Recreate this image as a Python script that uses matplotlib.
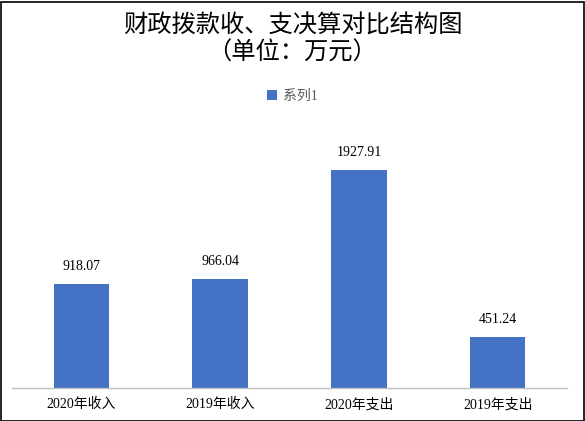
import matplotlib
matplotlib.use("Agg")
import matplotlib.pyplot as plt
from matplotlib.patches import Rectangle

categories = ["2020年收入", "2019年收入", "2020年支出", "2019年支出"]
values = [918.07, 966.04, 1927.91, 451.24]
series_name = "系列1"
title_line1 = "财政拨款收、支决算对比结构图"
title_line2 = "（单位：万元）"

fam = ["Liberation Serif", "Noto Sans CJK SC", "DejaVu Sans"]
plt.rcParams['font.family'] = fam

fig = plt.figure(figsize=(5.85, 4.21), dpi=100)
ax = fig.add_axes([12/585, 1 - 388/421, 555/585, (388 - 105)/421])

x = list(range(len(categories)))
bars = ax.bar(x, values, width=0.4, color="#4472C4", label=series_name, zorder=2)
ax.set_xlim(-0.5, len(categories) - 0.5)
ax.set_ylim(0, 2500)
for xi, v in zip(x, values):
    ax.annotate(f"{v:.2f}", (xi, v), xytext=(0, 8), textcoords="offset points",
                ha="center", va="bottom", fontsize=10, color="#000000")

ax.set_xticks(x)
ax.set_xticklabels(categories, fontsize=10)
ax.tick_params(axis="x", length=0, pad=7)
ax.set_yticks([])
for s in ["left", "right", "top"]:
    ax.spines[s].set_visible(False)
ax.spines["bottom"].set_color("#BFBFBF")
ax.spines["bottom"].set_linewidth(1.0)

fig.text(0.5, 1 - 26/421, title_line1, ha="center", va="center", fontsize=17.5,
         family=["Noto Sans CJK SC", "DejaVu Sans"])
fig.text(0.5, 1 - 53/421, title_line2, ha="center", va="center", fontsize=17.5,
         family=["Noto Sans CJK SC", "DejaVu Sans"])

leg = fig.legend(handles=[bars], labels=[series_name], loc="center",
                 bbox_to_anchor=(0.5, 1 - 96/421), frameon=False, fontsize=10,
                 handlelength=0.7, handleheight=0.7, handletextpad=0.4)
for t in leg.get_texts():
    t.set_color("#595959")

fig.patches.append(Rectangle((0.5/585, 0.5/421), 583/585, 419/421, transform=fig.transFigure,
                             fill=False, edgecolor="black", linewidth=1.2))

fig.savefig("out.png", dpi=100)
